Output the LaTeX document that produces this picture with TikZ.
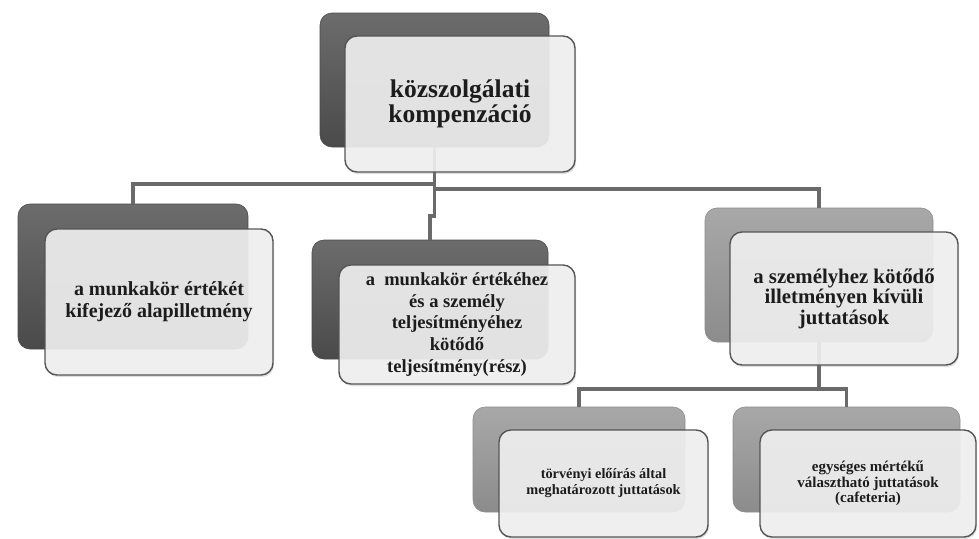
\documentclass[tikz,border=0pt]{standalone}
\usepackage{fontspec}
\setmainfont{Liberation Serif}
\usetikzlibrary{shadows}
\definecolor{linegray}{HTML}{6A6A6A}
\definecolor{darktop}{HTML}{6C6C6C}
\definecolor{darkbot}{HTML}{4A4A4A}
\definecolor{lighttop}{HTML}{A8A8A8}
\definecolor{lightbot}{HTML}{8C8C8C}
\definecolor{frontfill}{HTML}{F1F1F1}
\definecolor{frontedge}{HTML}{555555}
\definecolor{txt}{HTML}{1C1C1C}
\tikzset{
  x=1pt, y=-1pt,
  backdark/.style={rounded corners=12pt, inner sep=0pt, top color=darktop, bottom color=darkbot, draw=darkbot, line width=0.6pt},
  backlight/.style={rounded corners=12pt, inner sep=0pt, top color=lighttop, bottom color=lightbot, draw=lightbot, line width=0.6pt},
  frontbox/.style={rounded corners=12pt, inner sep=1pt, fill=frontfill, fill opacity=0.9, text opacity=1, draw=frontedge, draw opacity=1, line width=1.4pt, align=center, text=txt, font=\bfseries,
    drop shadow={opacity=0.25, shadow xshift=1pt, shadow yshift=-2pt}},
  conn/.style={draw=linegray, line width=3.2pt},
}
\begin{document}
\begin{tikzpicture}
\useasboundingbox (0,0) rectangle (979,538);
% back boxes
\node[backdark, minimum width=229pt, minimum height=134pt] (tb) at (434.5,80) {};
\node[backdark, minimum width=230pt, minimum height=145pt] (lb) at (133,276.5) {};
\node[backdark, minimum width=236pt, minimum height=119pt] (mb) at (430,299.5) {};
\node[backlight, minimum width=228pt, minimum height=134pt] (rb) at (819,275) {};
\node[backlight, minimum width=212pt, minimum height=105pt] (blb) at (579,459.5) {};
\node[backlight, minimum width=227pt, minimum height=105pt] (brb) at (846.5,459.5) {};
% connectors
\draw[conn] (tb.south) -- (tb.south |- 0,184) -| (lb.north);
\draw[conn] (tb.south) -- (tb.south |- 0,189) -| (rb.north);
\draw[conn] (tb.south) -- (tb.south |- 0,216) -- (mb.north |- 0,216) -- (mb.north);
\draw[conn] (rb.south) -- (rb.south |- 0,389) -| (blb.north);
\draw[conn] (rb.south |- 0,389) -| (brb.north);
% front boxes
\node[frontbox, minimum width=230pt, minimum height=136pt, font=\bfseries\fontsize{25.5}{25}\selectfont] (tf) at (460,104) {közszolgálati\\kompenzáció};
\node[frontbox, minimum width=228pt, minimum height=146pt, font=\bfseries\fontsize{20}{22}\selectfont] (lf) at (159,302) {a munkakör értékét\\kifejező alapilletmény};
\node[frontbox, minimum width=236pt, minimum height=119pt, font=\bfseries\fontsize{18.5}{21.7}\selectfont] (mf) at (457,324.5) {a\ \ munkakör értékéhez\\és a személy\\teljesítményéhez\\kötődő\\teljesítmény(rész)};
\node[frontbox, minimum width=228pt, minimum height=133pt, font=\bfseries\fontsize{20.8}{20.5}\selectfont] (rf) at (844,298.5) {a személyhez kötődő\\illetményen kívüli\\juttatások};
\node[frontbox, minimum width=209pt, minimum height=107pt, font=\bfseries\fontsize{14.3}{16}\selectfont] (blf) at (603.5,483.5) {törvényi előírás által\\meghatározott juttatások};
\node[frontbox, minimum width=216pt, minimum height=107pt, font=\bfseries\fontsize{15}{15.5}\selectfont] (brf) at (868,483.5) {egységes mértékű\\választható juttatások\\(cafeteria)};
\end{tikzpicture}
\end{document}
